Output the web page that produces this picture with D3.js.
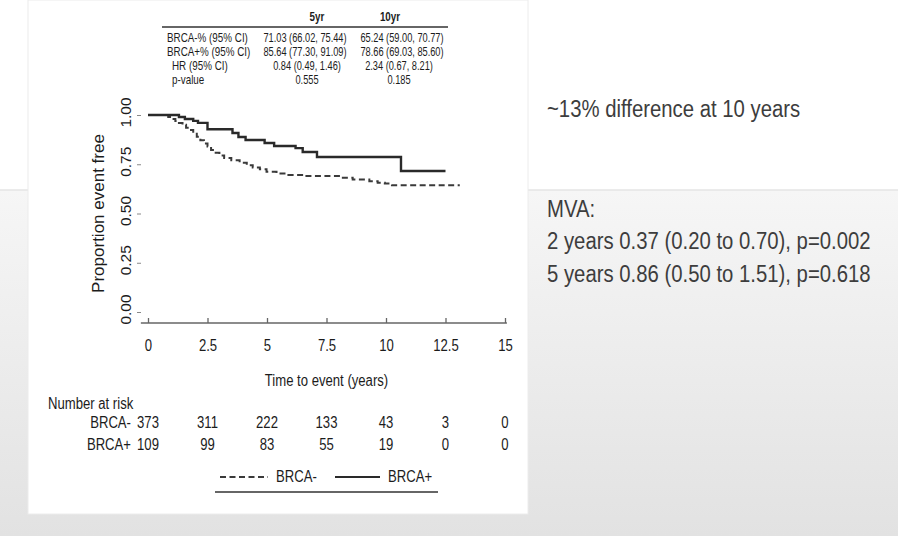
<!DOCTYPE html>
<html>
<head>
<meta charset="utf-8">
<script src="https://cdn.jsdelivr.net/npm/d3@7"></script>
<style>
  html, body { margin: 0; padding: 0; background: #fff; }
  svg { display: block; }
  text { font-family: "Liberation Sans", Arial, sans-serif; }
</style>
</head>
<body>
<svg id="chart" width="898" height="536"></svg>
<script>
// Kaplan-Meier step points: [time (years), proportion event free]
const brcaNeg = [
  [0, 1.0], [0.85, 0.99], [1.0, 0.98], [1.15, 0.97], [1.3, 0.96], [1.45, 0.95],
  [1.6, 0.935], [1.75, 0.924], [1.9, 0.905], [2.05, 0.89], [2.2, 0.872], [2.35, 0.855],
  [2.5, 0.84], [2.65, 0.822], [2.8, 0.808], [3.0, 0.795], [3.2, 0.782], [3.5, 0.77],
  [3.85, 0.758], [4.15, 0.745], [4.4, 0.733], [4.7, 0.724], [4.98, 0.712], [5.4, 0.703],
  [5.9, 0.696], [6.6, 0.69], [8.1, 0.682], [8.6, 0.672], [9.3, 0.664], [9.65, 0.656],
  [9.95, 0.652], [10.25, 0.643], [13.1, 0.643]
];
const brcaPos = [
  [0, 1.0], [1.3, 0.99], [1.55, 0.98], [1.9, 0.97], [2.1, 0.96], [2.5, 0.928],
  [3.55, 0.909], [3.8, 0.888], [4.1, 0.873], [4.9, 0.858], [5.3, 0.843], [6.2, 0.832],
  [6.5, 0.812], [7.1, 0.787], [10.63, 0.716], [12.5, 0.716]
];

const xTicks = [0, 2.5, 5, 7.5, 10, 12.5, 15];
const yTicks = [0, 0.25, 0.5, 0.75, 1.0];

const riskTimes = [0, 2.5, 5, 7.5, 10, 12.5, 15];
const riskNeg = [373, 311, 222, 133, 43, 3, 0];
const riskPos = [109, 99, 83, 55, 19, 0, 0];

const tableCols = ["5yr", "10yr"];
const tableRowLabels = ["BRCA-% (95% CI)", "BRCA+% (95% CI)", "HR (95% CI)", "p-value"];
const tableCol5 = ["71.03 (66.02, 75.44)", "85.64 (77.30, 91.09)", "0.84 (0.49, 1.46)", "0.555"];
const tableCol10 = ["65.24 (59.00, 70.77)", "78.66 (69.03, 85.60)", "2.34 (0.67, 8.21)", "0.185"];

const sideNotes = [
  "~13% difference at 10 years",
  "MVA:",
  "2 years 0.37 (0.20 to 0.70), p=0.002",
  "5 years 0.86 (0.50 to 1.51), p=0.618"
];

const SQUEEZE = 0.82;   // horizontal condensing for the narrow typeface
const ink = "#1c1c1c";

const svg = d3.select("#chart");

// place condensed text at (x, y)
function narrow(sel, fx, fy, k = SQUEEZE) {
  return sel.attr("transform", (d, i) =>
    `translate(${typeof fx === "function" ? fx(d, i) : fx},${typeof fy === "function" ? fy(d, i) : fy}) scale(${k},1)`);
}

// page background: white top band, grey gradient below
const defs = svg.append("defs");
const grad = defs.append("linearGradient").attr("id", "bgGrad")
  .attr("x1", 0).attr("y1", 0).attr("x2", 0).attr("y2", 1);
grad.append("stop").attr("offset", "0%").attr("stop-color", "#f6f6f6");
grad.append("stop").attr("offset", "100%").attr("stop-color", "#e2e2e2");

svg.append("rect").attr("x", 0).attr("y", 0).attr("width", 898).attr("height", 536).attr("fill", "#fff");
svg.append("rect").attr("x", 0).attr("y", 190).attr("width", 898).attr("height", 346).attr("fill", "url(#bgGrad)");
svg.append("line").attr("x1", 0).attr("x2", 898).attr("y1", 190).attr("y2", 190)
  .attr("stroke", "#e4e4e4").attr("stroke-width", 1.5);

// white figure panel
svg.append("rect").attr("x", 28).attr("y", 0).attr("width", 500).attr("height", 514)
  .attr("fill", "#fff").attr("stroke", "#ececec").attr("stroke-width", 1);

const x = d3.scaleLinear().domain([0, 15]).range([148, 505]);
const y = d3.scaleLinear().domain([0, 1]).range([312, 115]);

// x axis (ticks pointing into the plot)
const xAxis = svg.append("g").attr("transform", "translate(0,323)")
  .call(d3.axisBottom(x).tickValues(xTicks).tickSize(-5).tickFormat(d => d3.format("")(d)));
xAxis.select(".domain").remove();
xAxis.append("line").attr("x1", x(-0.3)).attr("x2", x(15.08)).attr("y1", 0).attr("y2", 0)
  .attr("stroke", "#666").attr("stroke-width", 1.5);
xAxis.selectAll(".tick line").attr("stroke", "#666").attr("stroke-width", 1.3);
xAxis.selectAll(".tick text")
  .attr("y", null).attr("dy", null)
  .attr("transform", `translate(0,23) scale(${SQUEEZE},1)`)
  .attr("dominant-baseline", "central")
  .attr("font-family", "Liberation Sans, Arial, sans-serif")
  .attr("font-size", 16).attr("fill", ink);

// y axis: short ticks, rotated labels
const yAxis = svg.append("g").attr("transform", "translate(141,0)")
  .call(d3.axisLeft(y).tickValues(yTicks).tickSize(4).tickFormat(d3.format(".2f")));
yAxis.select(".domain").remove();
yAxis.selectAll(".tick line").attr("stroke", "#888").attr("stroke-width", 1);
yAxis.selectAll(".tick text")
  .attr("x", null).attr("dy", null)
  .attr("transform", "translate(-16,-3) rotate(-90)")
  .attr("text-anchor", "middle").attr("dominant-baseline", "central")
  .attr("font-family", "Liberation Sans, Arial, sans-serif")
  .attr("font-size", 15.5).attr("fill", ink);

svg.append("text").attr("transform", `translate(98,${y(0.5)}) rotate(-90)`)
  .attr("text-anchor", "middle").attr("dominant-baseline", "central")
  .attr("font-size", 17).attr("fill", ink).text("Proportion event free");

narrow(svg.append("text"), x(7.5), 381)
  .attr("text-anchor", "middle").attr("dominant-baseline", "central")
  .attr("font-size", 16).attr("fill", ink).text("Time to event (years)");

// survival curves
const line = d3.line().x(d => x(d[0])).y(d => y(d[1])).curve(d3.curveStepAfter);
svg.append("path").datum(brcaNeg).attr("d", line).attr("fill", "none")
  .attr("stroke", "#3a3a3a").attr("stroke-width", 2).attr("stroke-dasharray", "6,3.5");
svg.append("path").datum(brcaPos).attr("d", line).attr("fill", "none")
  .attr("stroke", "#2a2a2a").attr("stroke-width", 2.4);

// summary table above the plot
const tbl = svg.append("g").attr("fill", ink).attr("font-size", 12);
const rowY = [38, 52, 66, 80];
const TK = 0.77;  // value columns are set a little tighter
narrow(tbl.selectAll("text.hdr").data(tableCols).join("text").attr("class", "hdr"),
  (d, i) => [317, 390][i], 17)
  .attr("text-anchor", "middle").attr("dominant-baseline", "central")
  .attr("font-weight", "bold").text(d => d);
svg.append("line").attr("x1", 162).attr("x2", 448).attr("y1", 27).attr("y2", 27)
  .attr("stroke", "#333").attr("stroke-width", 1.6);
narrow(tbl.selectAll("text.lbl").data(tableRowLabels).join("text").attr("class", "lbl"),
  (d, i) => i < 2 ? 167 : 172, (d, i) => rowY[i])
  .attr("dominant-baseline", "central").text(d => d);
narrow(tbl.selectAll("text.c5").data(tableCol5).join("text").attr("class", "c5"),
  (d, i) => i < 2 ? 305 : 307, (d, i) => rowY[i], TK)
  .attr("text-anchor", "middle").attr("dominant-baseline", "central").text(d => d);
narrow(tbl.selectAll("text.c10").data(tableCol10).join("text").attr("class", "c10"),
  (d, i) => i < 2 ? 402 : 399, (d, i) => rowY[i], TK)
  .attr("text-anchor", "middle").attr("dominant-baseline", "central").text(d => d);

// number at risk
const risk = svg.append("g").attr("fill", ink).attr("font-size", 16);
narrow(risk.append("text"), 48, 404).attr("dominant-baseline", "central").text("Number at risk");
[["BRCA-", riskNeg, 423], ["BRCA+", riskPos, 445]].forEach(([lab, vals, ry]) => {
  narrow(risk.append("text"), 131, ry).attr("text-anchor", "end")
    .attr("dominant-baseline", "central").text(lab);
  narrow(risk.selectAll(null).data(vals).join("text"), (d, i) => x(riskTimes[i]), ry)
    .attr("text-anchor", "middle").attr("dominant-baseline", "central").text(d => d);
});

// legend
const lg = svg.append("g");
lg.append("line").attr("x1", 220).attr("x2", 268).attr("y1", 477).attr("y2", 477)
  .attr("stroke", "#3a3a3a").attr("stroke-width", 2).attr("stroke-dasharray", "6,3.5");
narrow(lg.append("text"), 276, 477).attr("font-size", 16)
  .attr("fill", ink).attr("dominant-baseline", "central").text("BRCA-");
lg.append("line").attr("x1", 335).attr("x2", 380).attr("y1", 477).attr("y2", 477)
  .attr("stroke", "#2a2a2a").attr("stroke-width", 2.2);
narrow(lg.append("text"), 388, 477).attr("font-size", 16)
  .attr("fill", ink).attr("dominant-baseline", "central").text("BRCA+");
lg.append("line").attr("x1", 215).attr("x2", 438).attr("y1", 492).attr("y2", 492)
  .attr("stroke", "#333").attr("stroke-width", 1.6);

// notes to the right of the figure
const noteY = [108, 208, 240, 273];
narrow(svg.append("g").attr("font-size", 24.8).attr("fill", "#3d3d3d")
  .selectAll("text").data(sideNotes).join("text"), 547, (d, i) => noteY[i])
  .attr("dominant-baseline", "central")
  .text(d => d);
</script>
</body>
</html>
